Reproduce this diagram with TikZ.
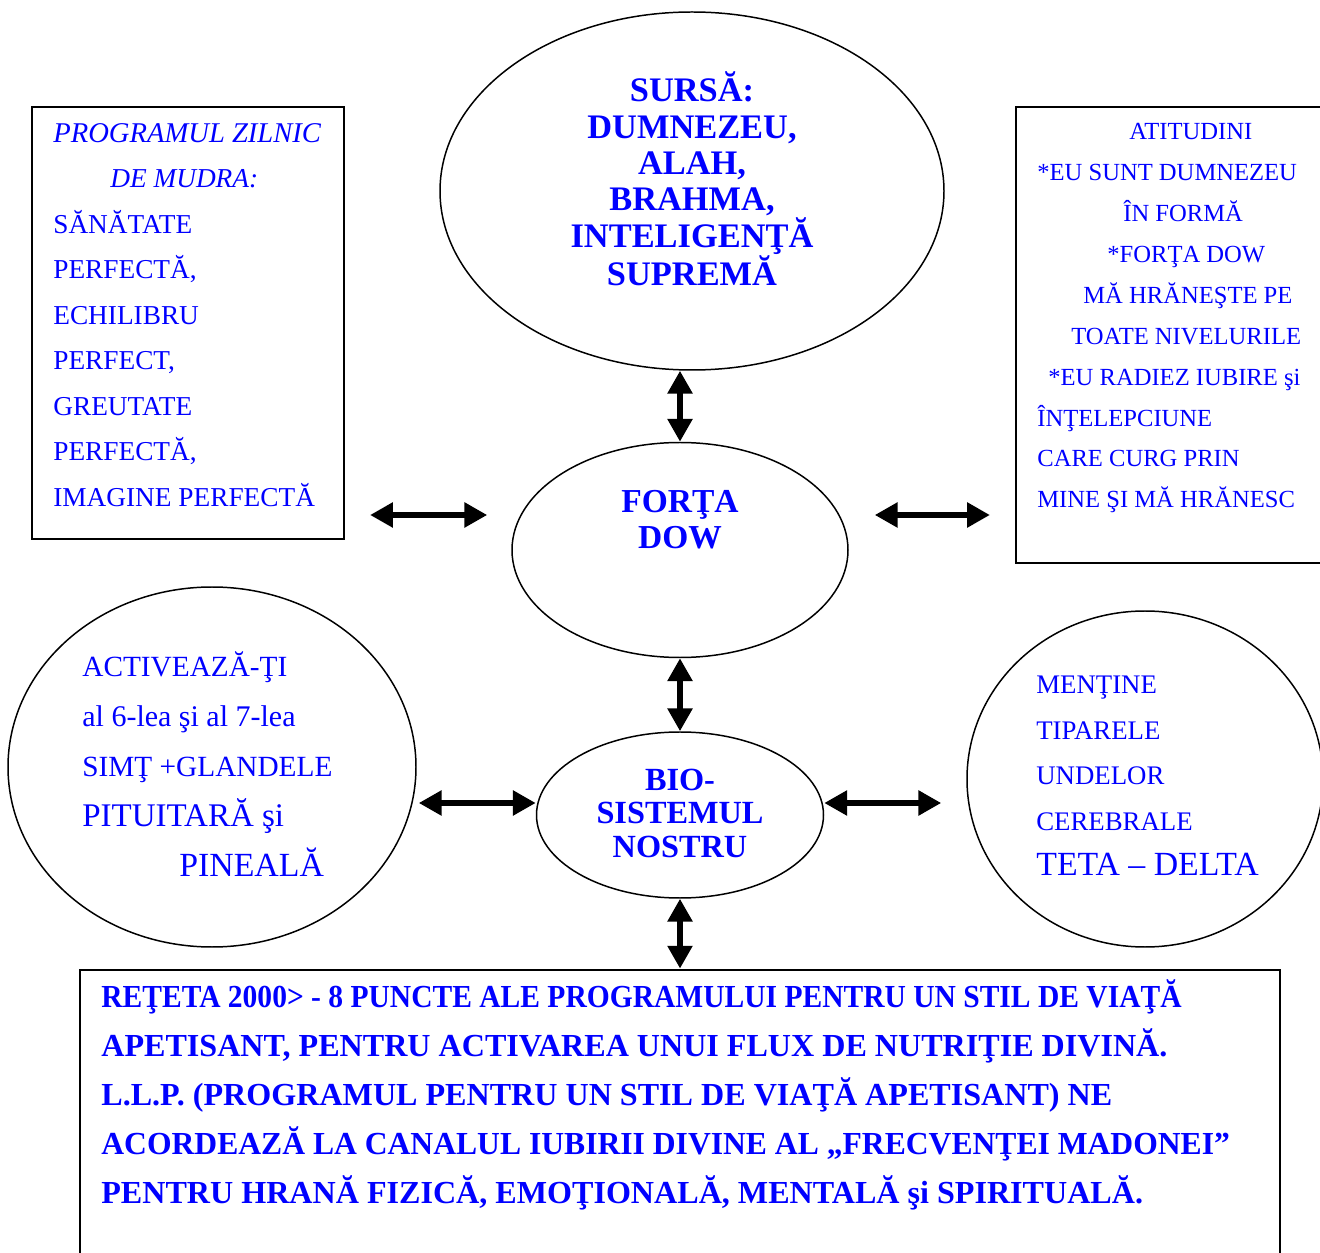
\documentclass[tikz,border=0pt]{standalone}
\usepackage{fontspec}
\setmainfont{Liberation Serif}
\usetikzlibrary{shapes.geometric,arrows.meta}
\definecolor{txtblue}{RGB}{0,0,255}
\newlength\pxu
\setlength\pxu{0.02cm}
\newcommand\fs[2]{\fontsize{#1\pxu}{#2\pxu}\selectfont}

\begin{document}
\begin{tikzpicture}[x=0.02cm, y=-0.02cm,
    frame/.style={draw, rectangle, line width=1.2pt, inner sep=0pt},
    oval/.style={draw, ellipse, line width=0.85pt, inner sep=0pt},
    blu/.style={text=txtblue, inner sep=0pt},
    biarrow/.style={{Triangle[length=13pt,width=13.6pt]}-{Triangle[length=13pt,width=13.6pt]}, line width=3.4pt}]
    \useasboundingbox (0,0) rectangle (1320,1253);

    % shapes
    \node[frame, minimum width=312\pxu, minimum height=432\pxu] (lbox) at (188,323) {};
    \node[frame, minimum width=314\pxu, minimum height=456\pxu] (rbox) at (1173,335) {};
    \node[frame, line width=1.6pt, minimum width=1200\pxu, minimum height=300\pxu] (reteta) at (680,1120) {};
    \node[oval, minimum width=504\pxu, minimum height=358\pxu] (sursa) at (692,191) {};
    \node[oval, minimum width=336\pxu, minimum height=215\pxu] (fdow) at (680,550) {};
    \node[oval, minimum width=287\pxu, minimum height=166\pxu] (bio) at (680,815) {};
    \node[oval, minimum width=408\pxu, minimum height=360\pxu] (lell) at (212,767) {};
    \node[oval, minimum width=356\pxu, minimum height=336\pxu] (rell) at (1145,779) {};

    % texts
    \node[blu, align=center, font=\fs{34.4}{36.4}\bfseries] (sursatxt) at (692,179)
        {SURSĂ:\\ DUMNEZEU,\\ ALAH,\\ BRAHMA,\\ INTELIGENŢĂ\\ SUPREMĂ};
    \node[blu, align=center, font=\fs{33.5}{36}\bfseries] (fdowtxt) at (680,520) {FORŢA\\ DOW};
    \node[blu, align=center, font=\fs{32.3}{33.5}\bfseries] (biotxt) at (680,813) {BIO-\\ SISTEMUL\\ NOSTRU};
    \node[blu, align=left, anchor=west, font=\fs{27.3}{45.5}] (lboxtxt) at (53,315)
        {\fs{28.6}{45.5}\textit{PROGRAMUL ZILNIC}\\ \hspace*{57\pxu}\textit{DE MUDRA:}\\ \fs{27.3}{45.5}SĂNĂTATE\\ PERFECTĂ,\\ ECHILIBRU\\
         PERFECT,\\ GREUTATE\\ PERFECTĂ,\\ IMAGINE PERFECTĂ};
    \node[blu, align=left, anchor=west, font=\fs{24.6}{41}] (rboxtxt) at (1037,318)
        {\hspace*{92\pxu}ATITUDINI\\ *EU SUNT DUMNEZEU\\ \hspace*{86\pxu}ÎN FORMĂ\\ \hspace*{70\pxu}*FORŢA DOW\\
         \hspace*{46\pxu}MĂ HRĂNEŞTE PE\\ \hspace*{34\pxu}TOATE NIVELURILE\\ \hspace*{11\pxu}*EU RADIEZ IUBIRE şi\\
         ÎNŢELEPCIUNE\\ CARE CURG PRIN\\ MINE ŞI MĂ HRĂNESC};
    \node[blu, align=left, anchor=west, font=\fs{29.3}{50}] (lelltxt) at (82,764)
        {ACTIVEAZĂ-ŢI\\ \fs{30}{50}al 6-lea şi al 7-lea\\ SIMŢ +GLANDELE\\ \fs{33}{52}PITUITARĂ şi\\ \fs{33.8}{54}\hspace*{97\pxu}PINEALĂ};
    \node[blu, align=left, anchor=west, font=\fs{26.8}{45.6}] (relltxt) at (1036,776)
        {MENŢINE\\ TIPARELE\\ UNDELOR\\ CEREBRALE\\ \fs{33.8}{49.5}TETA – DELTA};
    \node[blu, align=left, anchor=west, font=\fs{32.1}{49}\bfseries] (retetatxt) at (101,1095)
        {\scalebox{0.92}[1]{REŢETA 2000> - 8 PUNCTE ALE PROGRAMULUI PENTRU UN STIL DE VIAŢĂ}\\
         APETISANT, PENTRU ACTIVAREA UNUI FLUX DE NUTRIŢIE DIVINĂ.\\
         L.L.P. (PROGRAMUL PENTRU UN STIL DE VIAŢĂ APETISANT) NE\\
         \scalebox{0.985}[1]{ACORDEAZĂ LA CANALUL IUBIRII DIVINE AL „FRECVENŢEI MADONEI”}\\
         PENTRU HRANĂ FIZICĂ, EMOŢIONALĂ, MENTALĂ şi SPIRITUALĂ.};

    % arrows
    \coordinate (row1) at (0,515);
    \coordinate (row2) at (0,803);
    \draw[biarrow] (fdow.north |- sursa.south) -- (fdow.north);
    \draw[biarrow] (fdow.south) -- (bio.north);
    \draw[biarrow] (bio.south) -- (reteta.north);
    \draw[biarrow, shorten <=25\pxu, shorten >=24\pxu] (lbox.east |- row1) -- (fdow.west |- row1);
    \draw[biarrow, shorten <=26\pxu, shorten >=25\pxu] (fdow.east |- row1) -- (rbox.west |- row1);
    \draw[biarrow, shorten <=2\pxu] (lell.east |- row2) -- (bio.west |- row2);
    \draw[biarrow, shorten >=25\pxu] (bio.east |- row2) -- (rell.west |- row2);
\end{tikzpicture}
\end{document}
